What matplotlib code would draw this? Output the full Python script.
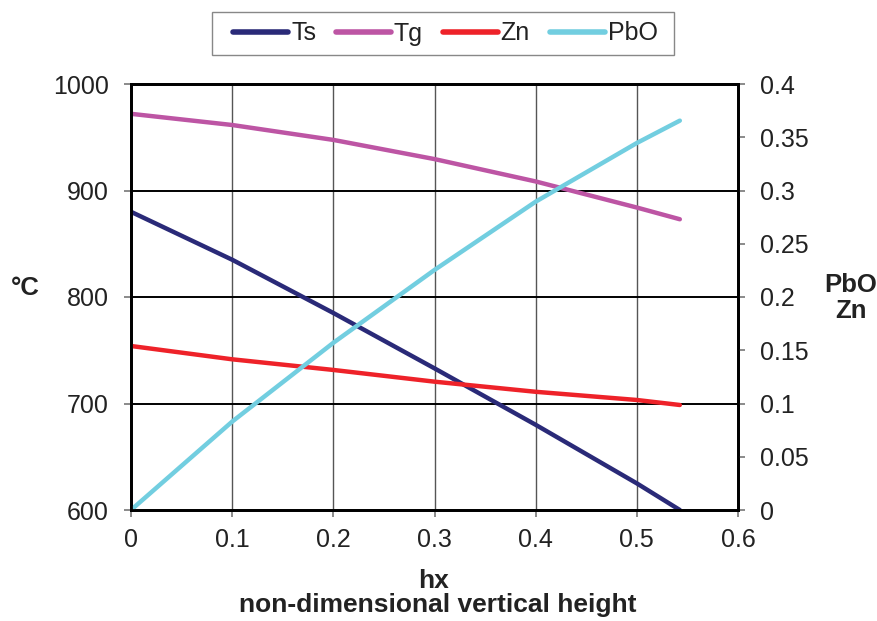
import matplotlib
matplotlib.use("Agg")
import matplotlib.pyplot as plt
from matplotlib.ticker import FuncFormatter
from matplotlib.patches import Rectangle

plt.rcParams['font.family'] = ['Liberation Sans', 'DejaVu Sans']

hx = [0.0, 0.1, 0.2, 0.3, 0.4, 0.5, 0.5425]
Ts = [880, 835, 785, 733, 680, 625, 600]
Tg = [972, 961.5, 947.5, 929.5, 908.5, 884, 873]
Zn = [0.154, 0.1415, 0.1315, 0.1205, 0.111, 0.1033, 0.0986]
PbO = [0.0, 0.083, 0.157, 0.2254, 0.2895, 0.3446, 0.3656]

left_ticks = [600, 700, 800, 900, 1000]
right_ticks = [0, 0.05, 0.1, 0.15, 0.2, 0.25, 0.3, 0.35, 0.4]
x_ticks = [0, 0.1, 0.2, 0.3, 0.4, 0.5, 0.6]

c_ts = '#2a2a78'
c_tg = '#bd55a4'
c_zn = '#ee2229'
c_pbo = '#72cee0'
txt = '#222222'

W, H = 878, 621
fig = plt.figure(figsize=(W / 100, H / 100), dpi=100)
ax = fig.add_axes([131 / W, 1 - 510 / H, (738 - 131) / W, (510 - 84) / H])
ax2 = ax.twinx()

lw = 3.2
l1, = ax.plot(hx, Ts, color=c_ts, lw=lw, solid_capstyle='round', label='Ts')
l2, = ax.plot(hx, Tg, color=c_tg, lw=lw, solid_capstyle='round', label='Tg')
l3, = ax2.plot(hx, Zn, color=c_zn, lw=lw, solid_capstyle='round', label='Zn')
l4, = ax2.plot(hx, PbO, color=c_pbo, lw=lw, solid_capstyle='round', label='PbO')

ax.set_xlim(0, 0.6)
ax.set_ylim(600, 1000)
ax2.set_ylim(0, 0.4)
ax.set_xticks(x_ticks)
ax.set_yticks(left_ticks)
ax2.set_yticks(right_ticks)
ax.xaxis.set_major_formatter(FuncFormatter(lambda v, p: f"{v:g}"))
ax2.yaxis.set_major_formatter(FuncFormatter(lambda v, p: f"{v:g}"))

for xv in x_ticks[1:-1]:
    ax.axvline(xv, color='#555555', lw=1.0, zorder=0)
for yv in left_ticks[1:-1]:
    ax.axhline(yv, color='black', lw=1.4, zorder=0)

for a in (ax, ax2):
    for s in a.spines.values():
        s.set_linewidth(2.0)
        s.set_color('black')
ax.tick_params(axis='x', direction='out', length=5, width=1.2, color='#777777',
               labelsize=18, pad=8, labelcolor=txt)
ax.tick_params(axis='y', direction='out', length=5, width=1.2, color='#777777',
               labelsize=18, pad=11, labelcolor=txt)
ax2.tick_params(axis='y', direction='out', length=5, width=1.2, color='#777777',
                labelsize=18, pad=11, labelcolor=txt)

fig.text(25 / W, 1 - 295 / H, '°C', fontsize=18.5, fontweight='bold', ha='center',
         va='baseline', color=txt)
fig.text(851 / W, 1 - 292 / H, 'PbO', fontsize=18.5, fontweight='bold', ha='center',
         va='baseline', color=txt)
fig.text(851 / W, 1 - 318 / H, 'Zn', fontsize=18.5, fontweight='bold', ha='center',
         va='baseline', color=txt)
fig.text(434 / W, 1 - 588 / H, 'hx', fontsize=19, fontweight='bold', ha='center',
         va='baseline', color=txt)
fig.text(437.5 / W, 1 - 612 / H, 'non-dimensional vertical height', fontsize=19,
         fontweight='bold', ha='center', va='baseline', color=txt)

fig.patches.append(Rectangle((212 / W, 1 - 55 / H), (674 - 212) / W, 43 / H,
                             transform=fig.transFigure, fill=False,
                             edgecolor='#888888', lw=1.0))
leg = fig.legend([l1, l2, l3, l4], ['Ts', 'Tg', 'Zn', 'PbO'], loc='center',
                 bbox_to_anchor=(445.5 / W, 1 - 33.5 / H), ncol=4, frameon=False,
                 fontsize=18, handlelength=2.2, columnspacing=0.79,
                 handletextpad=0.12, borderpad=0.0, labelcolor=txt)
for h in leg.get_lines():
    h.set_linewidth(4.0)

fig.savefig('out.png', dpi=100)
